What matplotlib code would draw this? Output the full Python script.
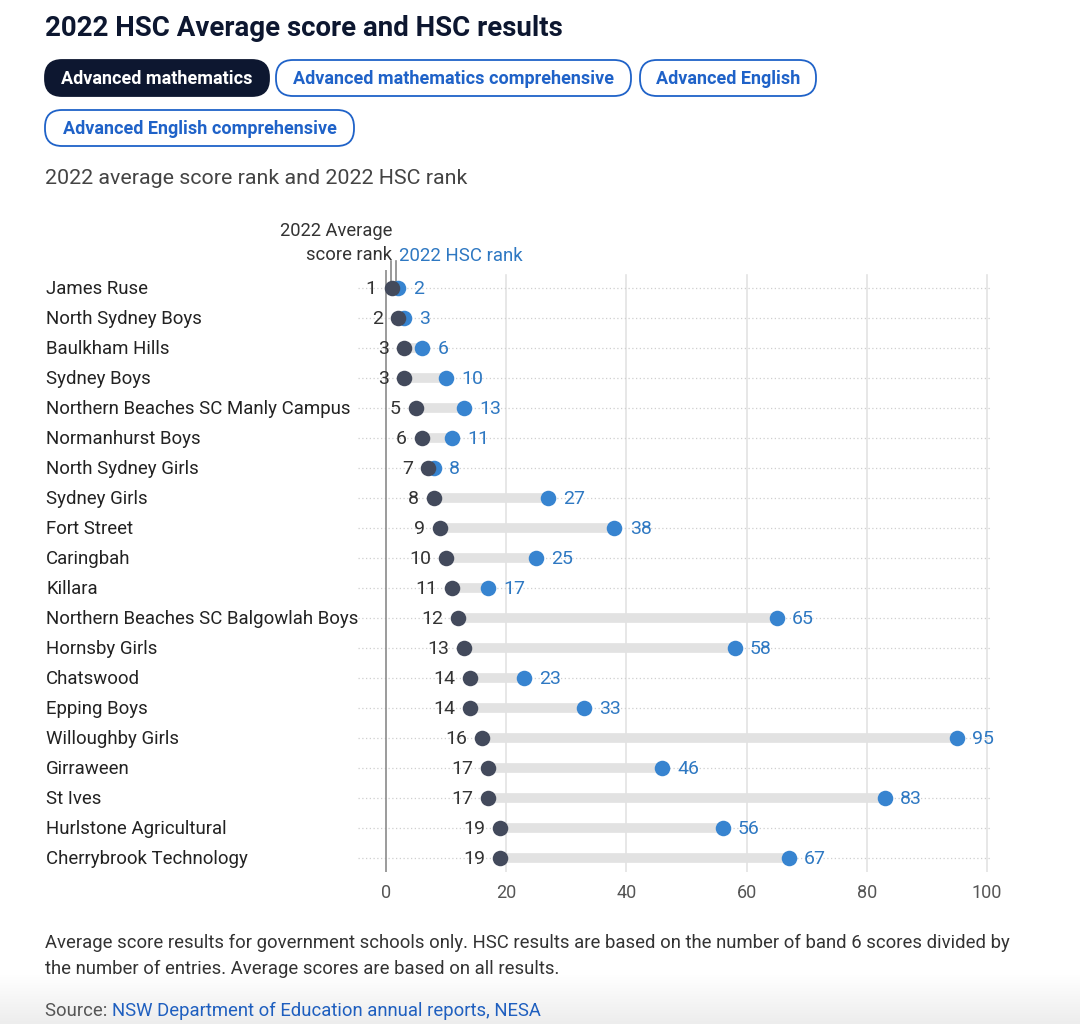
import matplotlib
matplotlib.use("Agg")
import matplotlib.pyplot as plt
from matplotlib.patches import FancyBboxPatch
from matplotlib.colors import LinearSegmentedColormap
import numpy as np

plt.rcParams['font.family'] = ['Roboto', 'DejaVu Sans']

schools = ["James Ruse", "North Sydney Boys", "Baulkham Hills", "Sydney Boys",
           "Northern Beaches SC Manly Campus", "Normanhurst Boys", "North Sydney Girls",
           "Sydney Girls", "Fort Street", "Caringbah", "Killara",
           "Northern Beaches SC Balgowlah Boys", "Hornsby Girls", "Chatswood",
           "Epping Boys", "Willoughby Girls", "Girraween", "St Ives",
           "Hurlstone Agricultural", "Cherrybrook Technology"]
avg_rank = [1, 2, 3, 3, 5, 6, 7, 8, 9, 10, 11, 12, 13, 14, 14, 16, 17, 17, 19, 19]
hsc_rank = [2, 3, 6, 10, 13, 11, 8, 27, 38, 25, 17, 65, 58, 23, 33, 95, 46, 83, 56, 67]
x_ticks = [0, 20, 40, 60, 80, 100]
buttons = ["Advanced mathematics", "Advanced mathematics comprehensive",
           "Advanced English", "Advanced English comprehensive"]

W, H = 1080, 1024
fig = plt.figure(figsize=(W / 100, H / 100), dpi=100)

DARK = "#434a5c"
BLUE = "#3784d0"
BLUE_TXT = "#2e78c2"
TXT = "#333333"
NAVY = "#0d1730"

# overlay axes in pixel coordinates
ov = fig.add_axes([0, 0, 1, 1])
ov.axis("off")

# bottom fade
grad = np.linspace(0, 1, 50).reshape(-1, 1)
cm = LinearSegmentedColormap.from_list("f", ["#ffffff", "#ededed"])
ov.imshow(grad, extent=[0, W, H, H - 50], cmap=cm, aspect="auto", zorder=0)
ov.set_xlim(0, W)
ov.set_ylim(H, 0)

ov.text(45, 29, "2022 HSC Average score and HSC results", fontsize=19.9,
        fontweight="bold", color=NAVY, va="center", ha="left")

btn_boxes = [(45, 60, 224), (276, 60, 355), (640, 60, 176), (45, 110, 309)]
for i, (label, (bx, by, bw)) in enumerate(zip(buttons, btn_boxes)):
    bh = 36
    if i == 0:
        fc, ec, tc = NAVY, NAVY, "white"
    else:
        fc, ec, tc = "white", "#1f62c8", "#1f62c8"
    p = FancyBboxPatch((bx, by), bw, bh,
                       boxstyle="round,pad=0,rounding_size=17",
                       fc=fc, ec=ec, lw=1.3, mutation_aspect=1)
    ov.add_patch(p)
    ov.text(bx + bw / 2, by + bh / 2 + 1, label, fontsize=13, fontweight="bold",
            color=tc, ha="center", va="center")

ov.text(45, 179, "2022 average score rank and 2022 HSC rank", fontsize=15.4,
        color="#444444", ha="left", va="center")

FT = 13.3
ov.text(45, 943, "Average score results for government schools only. HSC results are based on the number of band 6 scores divided by",
        fontsize=FT, color=TXT, ha="left", va="center")
ov.text(45, 969, "the number of entries. Average scores are based on all results.",
        fontsize=FT, color=TXT, ha="left", va="center")
t = ov.text(45, 1011, "Source: ", fontsize=FT, color="#555555", ha="left", va="center")
ov.annotate("NSW Department of Education annual reports, NESA", xycoords=t,
            xy=(1, 0.5), va="center", ha="left", fontsize=FT, color="#1f5fbf")

# main chart axes: 0 -> px 386, 100 -> px 987 ; row 0 -> px 288, step 30
ax_l, ax_r, ax_t, ax_b = 340, 1000, 270, 872
ax = fig.add_axes([ax_l / W, 1 - ax_b / H, (ax_r - ax_l) / W, (ax_b - ax_t) / H])
ppu = 6.01
ax.set_xlim((ax_l - 386) / ppu, (ax_r - 386) / ppu)
ax.set_ylim((ax_b - 288) / 30, (ax_t - 288) / 30)
ax.set_facecolor("none")
for s in ax.spines.values():
    s.set_visible(False)
ax.set_yticks([])
ax.set_xticks(x_ticks)
ax.tick_params(axis="x", length=0, pad=9, labelsize=13, labelcolor="#555555")

n = len(schools)
ypos = np.arange(n)
for xv in x_ticks[1:]:
    ax.axvline(xv, ymin=0, ymax=1 - 5 / (ax_b - ax_t), color="#e3e3e3", lw=1.2, zorder=0)
ax.axvline(0, color="#8a8a8a", lw=1.2, zorder=1)

for i in range(n):
    ax.plot([-4.7, 100.5], [i, i], color="#cfcfcf", lw=0.9, ls=(0, (1, 2)), zorder=0.5)
    ax.plot([avg_rank[i], hsc_rank[i]], [i, i], color="#e2e2e2", lw=7,
            solid_capstyle="butt", zorder=2)
ax.scatter(hsc_rank, ypos, s=125, color=BLUE, zorder=3, linewidths=0)
ax.scatter(avg_rank, ypos, s=125, color=DARK, zorder=4, linewidths=0)

for i in range(n):
    ax.annotate(str(avg_rank[i]), (avg_rank[i], i), xytext=(-11, -0.5),
                textcoords="offset points", ha="right", va="center",
                fontsize=14, color=TXT)
    ax.annotate(str(hsc_rank[i]), (hsc_rank[i], i), xytext=(11, -0.5),
                textcoords="offset points", ha="left", va="center",
                fontsize=14, color=BLUE_TXT)
    ov.text(46, 289 + 30 * i, schools[i], fontsize=13.4, color="#222222",
            ha="left", va="center")

# header annotations with leader lines
ax.annotate("2022 Average\nscore rank", xy=(avg_rank[0], 0), xytext=(392, 243),
            textcoords=ov.transData, ha="right", va="center", fontsize=13.2,
            color=TXT, linespacing=1.45)
ax.annotate("2022 HSC rank", xy=(hsc_rank[0], 0), xytext=(399, 256),
            textcoords=ov.transData, ha="left", va="center", fontsize=13.4,
            color=BLUE_TXT)
ax.plot([avg_rank[0] - 0.2, avg_rank[0] - 0.2], [-0.9, 0], color="#888888", lw=1.2,
        zorder=1, clip_on=False)
ax.plot([hsc_rank[0] - 0.3, hsc_rank[0] - 0.3], [-0.9, 0], color="#888888", lw=1.2,
        zorder=1, clip_on=False)

fig.savefig("out.png", dpi=100)
